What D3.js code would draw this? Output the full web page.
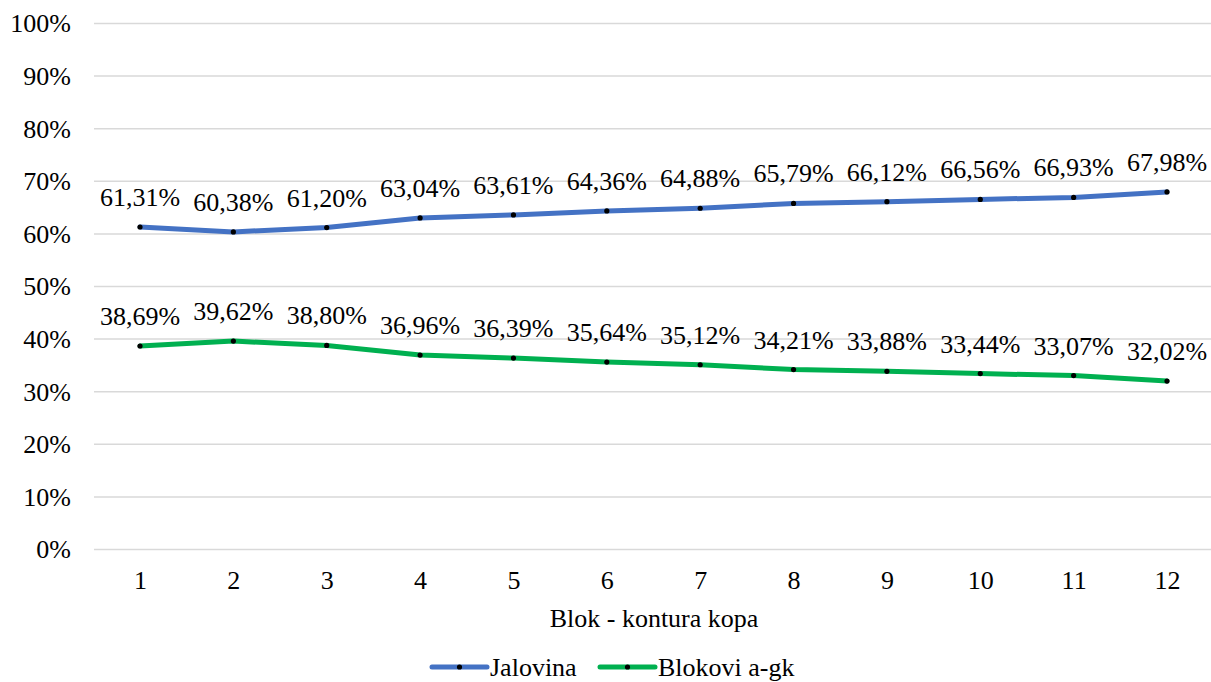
<!DOCTYPE html>
<html><head><meta charset="utf-8">
<script src="https://cdn.jsdelivr.net/npm/d3@7"></script>
</head><body style="margin:0;background:#fff">
<svg id="c" width="1211" height="682" font-family="Liberation Serif"></svg>
<script>
const categories = ["1","2","3","4","5","6","7","8","9","10","11","12"];
const jalovina = [61.31,60.38,61.20,63.04,63.61,64.36,64.88,65.79,66.12,66.56,66.93,67.98];
const blokovi = [38.69,39.62,38.80,36.96,36.39,35.64,35.12,34.21,33.88,33.44,33.07,32.02];
const yTicks = [0,10,20,30,40,50,60,70,80,90,100];
const seriesNames = ["Jalovina","Blokovi a-gk"];
const seriesColors = ["#4472C4","#00B050"];

const FONT = "Liberation Serif";
const svg = d3.select("#c");
const fs = 26;
const x = d3.scalePoint().domain(categories).range([140,1167]);
const y = d3.scaleLinear().domain([0,100]).range([549.5,23.5]);

// gridlines
svg.append("g").selectAll("line").data(yTicks).join("line")
  .attr("x1",94).attr("x2",1211)
  .attr("y1",d=>y(d)).attr("y2",d=>y(d))
  .attr("stroke","#d9d9d9").attr("stroke-width",1.5);

// y axis labels
const yAxis = d3.axisLeft(y).tickValues(yTicks).tickSize(0).tickPadding(0).tickFormat(d=>d+"%");
const ga = svg.append("g").attr("transform","translate(71,0)").call(yAxis);
ga.attr("font-family",FONT).attr("font-size",fs);
ga.select(".domain").remove();
ga.selectAll("text").attr("font-size",fs).attr("font-family",FONT).attr("fill","#000");

// x axis labels
const xAxis = d3.axisBottom(x).tickSize(0).tickPadding(0);
const gx = svg.append("g").attr("transform","translate(0,571)").call(xAxis);
gx.attr("font-family",FONT).attr("font-size",fs);
gx.select(".domain").remove();
gx.selectAll("text").attr("font-size",fs).attr("font-family",FONT).attr("fill","#000");

// axis title
svg.append("text").attr("x",654).attr("y",627).attr("text-anchor","middle")
  .attr("font-family",FONT).attr("font-size",fs).text("Blok - kontura kopa");

const data = [jalovina, blokovi];
const line = d3.line().x((d,i)=>x(categories[i])).y(d=>y(d));
data.forEach((vals,si)=>{
  svg.append("path").datum(vals).attr("d",line).attr("fill","none")
    .attr("stroke",seriesColors[si]).attr("stroke-width",5).attr("stroke-linejoin","round").attr("stroke-linecap","round");
  svg.append("g").selectAll("circle").data(vals).join("circle")
    .attr("cx",(d,i)=>x(categories[i])).attr("cy",d=>y(d)).attr("r",2.6).attr("fill","#000");
  svg.append("g").selectAll("text").data(vals).join("text")
    .attr("x",(d,i)=>x(categories[i])).attr("y",d=>y(d)-21)
    .attr("text-anchor","middle").attr("font-family",FONT).attr("font-size",fs)
    .text(d=>d.toFixed(2).replace(".",",")+"%");
});

// legend
const legendPos = [[432,490],[600,658]];
seriesNames.forEach((n,i)=>{
  const [lx,tx] = legendPos[i];
  svg.append("line").attr("x1",lx).attr("x2",lx+55).attr("y1",667).attr("y2",667)
    .attr("stroke",seriesColors[i]).attr("stroke-width",5).attr("stroke-linecap","round");
  svg.append("circle").attr("cx",lx+27.5).attr("cy",667).attr("r",2.6).attr("fill","#000");
  svg.append("text").attr("x",tx).attr("y",676).attr("font-family",FONT).attr("font-size",fs).text(n);
});
</script>
</body></html>
